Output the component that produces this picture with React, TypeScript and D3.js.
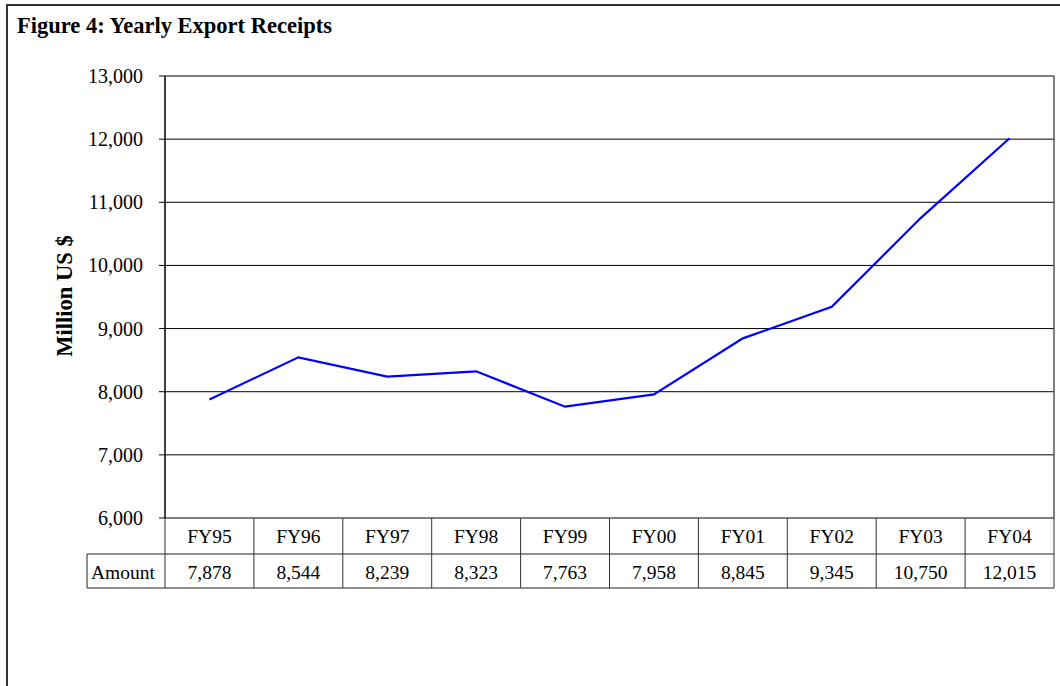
import React from "react";
import * as d3 from "d3";

const categories = ["FY95", "FY96", "FY97", "FY98", "FY99", "FY00", "FY01", "FY02", "FY03", "FY04"];
const amounts = [7878, 8544, 8239, 8323, 7763, 7958, 8845, 9345, 10750, 12015];
const yTicks = [6000, 7000, 8000, 9000, 10000, 11000, 12000, 13000];
const title = "Figure 4: Yearly Export Receipts";
const yLabel = "Million US $";
const rowLabel = "Amount";

export default function App() {
  const W = 1060, H = 686;
  const left = 165, right = 1054, top = 76, bottom = 518;
  const rowH1 = 36, rowH2 = 34;
  const x = d3.scaleBand<string>().domain(categories).range([left, right]);
  const y = d3.scaleLinear().domain([6000, 13000]).range([bottom, top]);
  const fmt = d3.format(",");
  const line = d3.line<number>()
    .x((_, i) => (x(categories[i]) as number) + x.bandwidth() / 2)
    .y((d) => y(d));
  const font = "'Liberation Serif', 'Times New Roman', serif";
  const r1 = bottom + rowH1;
  const r2 = r1 + rowH2;
  return (
    <svg width={W} height={H} style={{ position: "absolute", left: 0, top: 0, background: "#fff" }} fontFamily={font}>
      <rect x={7} y={5} width={1200} height={1000} fill="none" stroke="#333" strokeWidth={2} />
      <text x={17} y={33} fontSize={22.5} fontWeight="bold">{title}</text>
      {yTicks.map((t) => (
        <g key={t}>
          <line x1={left} x2={right} y1={y(t)} y2={y(t)} stroke="#000" strokeWidth={1} />
          <line x1={left - 6} x2={left} y1={y(t)} y2={y(t)} stroke="#000" strokeWidth={1} />
          <text x={143} y={y(t) + 7} fontSize={20} textAnchor="end">{fmt(t)}</text>
        </g>
      ))}
      <line x1={left} x2={left} y1={top} y2={bottom} stroke="#000" strokeWidth={1.5} />
      <line x1={right} x2={right} y1={top} y2={bottom} stroke="#555" strokeWidth={1.5} />
      <text transform={`translate(72,296) rotate(-90)`} fontSize={22.5} fontWeight="bold" textAnchor="middle">{yLabel}</text>
      <path d={line(amounts) || ""} fill="none" stroke="#0000ff" strokeWidth={2.2} />
      {/* table */}
      <line x1={87} x2={right} y1={r1} y2={r1} stroke="#222" strokeWidth={1} />
      <line x1={87} x2={right} y1={r2} y2={r2} stroke="#222" strokeWidth={1} />
      <line x1={87} x2={87} y1={r1} y2={r2} stroke="#222" strokeWidth={1} />
      <text x={91} y={579} fontSize={19.5}>{rowLabel}</text>
      {categories.map((c, i) => {
        const cx = (x(c) as number);
        return (
          <g key={c}>
            <line x1={cx} x2={cx} y1={bottom} y2={r2} stroke="#333" strokeWidth={1} />
            <text x={cx + x.bandwidth() / 2} y={543} fontSize={19.5} textAnchor="middle">{c}</text>
            <text x={cx + x.bandwidth() / 2} y={579} fontSize={19.5} textAnchor="middle">{fmt(amounts[i])}</text>
          </g>
        );
      })}
      <line x1={right} x2={right} y1={bottom} y2={r2} stroke="#333" strokeWidth={1} />
    </svg>
  );
}
